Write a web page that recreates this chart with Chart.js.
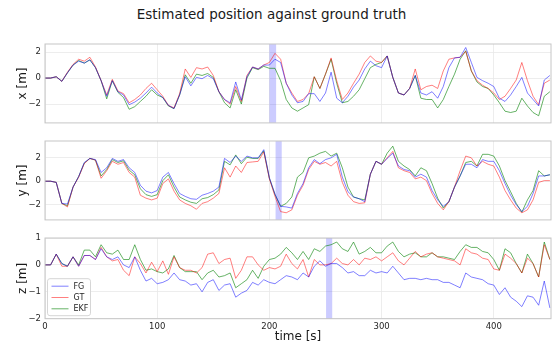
<!DOCTYPE html>
<html>
<head>
<meta charset="utf-8">
<script src="https://cdn.jsdelivr.net/npm/chart.js@4.4.0/dist/chart.umd.min.js"></script>
<style>
  body { margin: 0; background: #fff; }
  #wrap { position: relative; width: 557px; height: 347px; overflow: hidden; font-family: "DejaVu Sans", sans-serif; }
  #title { position: absolute; left: -7px; top: 6px; width: 557px; text-align: center; font-size: 13.5px; color: #1a1a1a; }
  canvas { position: absolute; left: 0; }
</style>
</head>
<body>
<div id="wrap">
  <div id="title">Estimated position against ground truth</div>
  <canvas id="cx" width="557" height="132" style="top:0px"></canvas>
  <canvas id="cy" width="557" height="101" style="top:128px"></canvas>
  <canvas id="cz" width="557" height="122" style="top:225px"></canvas>
</div>
<script>
// sample times [s]
const time = [
  0, 5, 10, 15, 20, 25, 30, 35, 40, 45,
  50, 55, 60, 65, 70, 75, 80, 85, 90, 95,
  100, 105, 110, 115, 120, 125, 130, 135, 140, 145,
  150, 155, 160, 165, 170, 175, 180, 185, 190, 195,
  200, 205, 210, 215, 220, 225, 230, 235, 240, 245,
  250, 255, 260, 265, 270, 275, 280, 285, 290, 295,
  300, 305, 310, 315, 320, 325, 330, 335, 340, 345,
  350, 355, 360, 365, 370, 375, 380, 385, 390, 395,
  400, 405, 410, 415, 420, 425, 430, 435, 440, 445,
  450
];
const timeTicks = [0, 100, 200, 300, 400];

// --- x [m] ---
const xFG = [
  0, 0, 0.1, -0.25, 0.4, 1.0, 1.3, 1.15, 1.4, 0.8,
  -0.2, -1.4, -0.2, -1.05, -1.3, -2.05, -1.85, -1.55, -1.15, -0.7,
  -1.15, -1.5, -2.1, -2.35, -1.3, 0.1, -0.6, 0.05, -0.05, 0.2,
  -0.05, -1.05, -1.65, -1.9, -0.3, -1.7, 0.1, 0.85, 0.7, 1.0,
  1.0, 1.45, 1.2, -0.4, -1.3, -1.9, -1.8, -1.2, -1.2, -1.8,
  -1.15, 0.45, -1.55, -1.9, -1.4, -0.7, -0.15, 0.7, 1.3, 0.95,
  0.8, 1.7, 0.05, -1.15, -1.3, -0.8, 0.2, -1.15, -1.3, -1.05,
  -1.55, -0.65, 0.8, 1.55, 1.6, 2.35, 1.2, 0.05, -0.2, -0.4,
  -0.65, -1.55, -1.8, -1.3, -0.65, 0.05, -1.15, -1.65, -2.15, -0.15,
  0.2
];
const xGT = [
  0, 0, 0.1, -0.25, 0.45, 1.05, 1.45, 1.3, 1.6, 0.85,
  -0.2, -1.3, -0.1, -1.0, -1.2, -1.9, -1.65, -1.3, -0.8, -0.4,
  -0.9, -1.4, -2.1, -2.3, -1.2, 0.7, 0.05, 0.8, 0.7, 0.85,
  0.2, -1.05, -1.65, -2.0, -0.65, -1.8, 0.2, 0.85, 0.7, 1.0,
  1.2, 1.9, 1.45, -0.4, -1.15, -1.8, -1.65, -1.2, 0.1, -0.8,
  0.3, 1.55, -0.2, -1.65, -1.15, -0.4, 0.3, 1.2, 1.7, 1.3,
  1.2, 1.7, 0.05, -1.15, -1.3, -0.8, 0.7, -0.9, -0.65, -0.55,
  -0.8, 0.55, 1.45, 1.55, 1.6, 2.05, 0.55, -0.2, -0.55, -0.8,
  -1.15, -1.65, -1.4, -0.8, -0.15, 1.2, -0.2, -1.4, -2.05, -0.4,
  -0.15
];
const xEKF = [
  0, 0, 0.1, -0.25, 0.4, 1.0, 1.35, 1.15, 1.4, 0.8,
  -0.2, -1.6, -0.2, -1.1, -1.5, -2.4, -2.2, -1.8, -1.4, -0.9,
  -1.3, -1.5, -2.15, -2.35, -1.3, 0.25, -0.4, 0.3, 0.2, 0.35,
  0.05, -1.05, -1.9, -2.3, -0.9, -2.0, 0.0, 0.8, 0.65, 0.9,
  0.75, 0.75, -0.2, -1.65, -2.3, -2.55, -2.3, -2.05, 0.1, -0.8,
  0.3, 1.45, -0.4, -1.9, -1.8, -1.4, -0.9, -0.05, 0.8, 1.05,
  1.2, 1.7, 0.05, -1.15, -1.3, -0.8, 0.2, -1.55, -1.65, -1.65,
  -2.3, -1.65, -0.65, 0.3, 1.45, 2.1, 0.55, -0.3, -0.65, -0.8,
  -1.3, -1.9, -2.55, -2.65, -2.55, -1.55, -2.15, -2.65, -2.9, -1.4,
  -1.05
];

// --- y [m] ---
const yFG = [
  0, 0, -0.1, -1.9, -1.95, -0.5, 0.4, 1.6, 1.95, 1.85,
  0.75, 1.15, 1.95, 1.7, 1.85, 1.15, 0.75, -0.35, -0.85, -1.0,
  -0.8, 0.35, 0.75, -0.2, -1.05, -1.3, -1.5, -1.55, -1.2, -1.05,
  -0.85, -0.5, 1.95, 1.6, 2.15, 1.7, 2.15, 2.0, 2.0, 2.7,
  0.3, -1.1, -2.15, -2.2, -2.3, -1.05, -0.2, 1.15, 1.85, 1.5,
  1.85, 2.0, 2.3, 0.35, -0.9, -1.35, -1.5, -1.75, 0.6, 1.7,
  1.45, 1.95, 2.4, 1.3, 1.0, 0.9, 0.35, 0.6, 0.35, -0.8,
  -1.6, -2.15, -1.75, -0.5, 0.45, 1.45, 1.45, 1.15, 1.85, 1.7,
  1.7, 0.9, -0.2, -1.2, -2.0, -2.6, -2.15, -1.05, 0.45, 0.45,
  0.55
];
const yGT = [
  0, 0, -0.1, -1.9, -2.2, -0.5, 0.35, 1.5, 1.95, 1.8,
  0.25, 0.9, 1.7, 1.45, 1.6, 0.75, 0.35, -1.2, -1.45, -1.6,
  -1.45, -0.2, 0.2, -0.85, -1.6, -1.9, -2.1, -2.4, -1.9, -1.75,
  -1.45, -1.05, 1.15, 0.35, 1.3, 0.75, 1.6, 1.65, 1.7, 2.5,
  0.2, -1.3, -2.6, -2.7, -2.45, -1.2, -0.35, 1.0, 1.7, 1.45,
  1.6, 1.3, 1.7, -0.1, -1.2, -1.75, -1.9, -1.85, 0.6, 1.7,
  1.45, 2.0, 2.55, 1.15, 0.9, 0.75, 0.2, 0.35, 0.05, -1.05,
  -1.9, -2.45, -1.75, -0.5, 0.9, 2.15, 2.0, 1.3, 1.7, 1.45,
  1.3, 0.35, -0.8, -1.6, -2.3, -2.7, -2.45, -1.6, -0.1, 0.05,
  0.05
];
const yEKF = [
  0, 0, -0.1, -1.9, -2.1, -0.5, 0.4, 1.55, 1.95, 1.8,
  0.45, 1.0, 1.85, 1.6, 1.75, 0.95, 0.55, -0.65, -1.15, -1.3,
  -1.15, 0.05, 0.55, -0.5, -1.35, -1.6, -1.8, -1.9, -1.5, -1.4,
  -1.15, -0.75, 1.7, 1.4, 2.25, 1.5, 2.05, 1.95, 1.95, 2.6,
  0.25, -1.15, -2.15, -1.9, -1.35, 0.35, 0.75, 2.0, 2.15, 2.4,
  2.55, 2.15, 2.4, 1.15, -0.5, -1.35, -1.5, -1.6, 0.6, 1.7,
  1.45, 2.4, 3.0, 1.7, 1.3, 1.0, 0.45, 1.15, 0.9, -0.2,
  -1.45, -2.3, -1.75, -0.5, 0.45, 1.6, 1.7, 1.3, 2.3, 2.3,
  2.15, 1.3, 0.05, -0.9, -1.9, -2.65, -1.6, -0.8, 0.9, 0.45,
  0.55
];

// --- z [m] ---
const zFG = [
  0, 0, 0.4, 0.05, -0.05, 0.3, -0.05, 0.35, 0.35, 0.2,
  0.6, 0.3, 0.2, 0.3, 0.0, -0.1, 0.3, -0.2, -0.6, -0.5,
  -0.7, -0.65, -0.55, -0.3, -0.55, -0.6, -0.75, -0.7, -1.0, -0.65,
  -0.55, -0.95, -0.75, -0.7, -1.2, -1.05, -0.95, -0.65, -0.75, -0.55,
  -0.65, -0.7, -0.55, -0.4, -0.45, -0.55, -0.3, -0.45, -0.05, 0.15,
  -0.05, 0.05, 0.05, -0.1, -0.3, -0.25, -0.4, -0.4, -0.2, -0.3,
  -0.25, -0.3, -0.05, -0.3, -0.55, -0.5, -0.5, -0.55, -0.5, -0.55,
  -0.55, -0.65, -0.65, -0.75, -0.85, -0.3, -0.45, -0.5, -0.55, -0.7,
  -0.75, -1.1, -0.85, -1.2, -1.35, -1.55, -1.15, -1.2, -1.5, -0.6,
  -1.6
];
const zGT = [
  0, 0, 0.4, -0.05, -0.05, 0.3, -0.05, 0.35, 0.35, 0.2,
  0.65, 0.3, 0.15, 0.2, -0.2, -0.4, 0.3, 0.05, -0.3, 0.1,
  -0.25, 0.15, -0.35, 0.3, -0.1, -0.2, -0.2, -0.3, -0.1, 0.4,
  0.45, 0.05, 0.2, 0.25, -0.5, -0.2, 0.3, 0.3, 0.0, -0.2,
  -0.1, -0.15, -0.05, 0.4, 0.05, -0.15, 0.2, -0.45, 0.2, 0.0,
  0.0, 0.05, 0.25, 0.05, 0.0, 0.2, 0.0, 0.25, 0.2, 0.3,
  0.15, 0.3, 0.45, 0.15, 0.0, 0.25, 0.5, 0.3, 0.4, 0.45,
  0.3, 0.25, 0.2, 0.15, 0.0, 0.6, 0.45, 0.4, 0.25, 0.2,
  -0.15, -0.2, 0.4, 0.25, 0.05, -0.3, 0.25, 0.05, -0.45, 0.75,
  0.2
];
const zEKF = [
  0, 0, 0.4, 0.05, -0.05, 0.3, 0.0, 0.55, 0.55, 0.3,
  0.75, 0.45, 0.4, 0.55, 0.2, 0.2, 0.75, 0.2, -0.2, -0.15,
  -0.25, -0.3, -0.15, 0.35, -0.1, -0.25, -0.25, -0.25, -0.55, -0.3,
  -0.2, -0.45, -0.4, -0.3, -0.85, -0.7, -0.55, -0.2, -0.5, -0.05,
  0.2, 0.25, 0.4, 0.65, 0.45, 0.2, 0.5, 0.2, 0.6, 0.5,
  0.7, 0.75, 0.85, 0.6, 0.5, 0.85, 0.4, 0.5, 0.65, 0.45,
  0.45, 0.7, 0.85, 0.5, 0.3, 0.4, 0.45, 0.3, 0.3, 0.45,
  0.3, 0.3, 0.25, 0.2, 0.5, 0.75, 0.65, 0.65, 0.5, 0.45,
  0.2, -0.2, 0.6, 0.45, 0.05, -0.3, 0.4, 0.05, -0.45, 0.85,
  0.2
];

const xAxisTicks = [-2, 0, 2];
const yAxisTicks = [-2, 0, 2];
const zAxisTicks = [-2, -1, 0, 1];
// highlighted time windows [s]
const xBand = [200, 206];
const yBand = [205.5, 211];
const zBand = [250.5, 256];

const seriesNames = ['FG', 'GT', 'EKF'];
const seriesColors = ['rgba(0,0,255,0.5)', 'rgba(255,0,0,0.5)', 'rgba(0,128,0,0.6)'];

Chart.defaults.font.family = '"DejaVu Sans", sans-serif';
Chart.defaults.animation = false;

// minus sign like matplotlib
const fmt = v => (v < 0 ? '\u2212' + Math.abs(v) : String(v));

// --- shaded span behind the lines ---
const bandPlugin = {
  id: 'band',
  beforeDatasetsDraw(chart, args, opts) {
    const a = chart.chartArea, xs = chart.scales.x, ctx = chart.ctx;
    const x0 = xs.getPixelForValue(opts.from), x1 = xs.getPixelForValue(opts.to);
    ctx.save();
    ctx.fillStyle = 'rgba(0,0,255,0.2)';
    ctx.fillRect(x0, a.top, x1 - x0, a.height);
    ctx.restore();
  }
};

// --- box round the plot area ---
const framePlugin = {
  id: 'frame',
  afterDraw(chart) {
    const a = chart.chartArea, ctx = chart.ctx;
    ctx.save();
    ctx.strokeStyle = '#c6c6c6';
    ctx.lineWidth = 1;
    ctx.strokeRect(a.left, a.top, a.width, a.height);
    ctx.restore();
  }
};

// --- legend drawn inside the z plot, lower left ---
const boxLegend = {
  id: 'boxLegend',
  afterDraw(chart, args, opts) {
    if (!opts.show) return;
    const a = chart.chartArea, ctx = chart.ctx;
    const x = a.left + 2.5, y = a.bottom - 40, w = 43, h = 37;
    ctx.save();
    ctx.fillStyle = 'rgba(255,255,255,0.85)';
    ctx.strokeStyle = '#d6d6d6';
    ctx.lineWidth = 1;
    ctx.beginPath();
    ctx.roundRect(x, y, w, h, 2.5);
    ctx.fill();
    ctx.stroke();
    ctx.font = '8px "DejaVu Sans", sans-serif';
    ctx.textBaseline = 'middle';
    chart.data.datasets.forEach((ds, i) => {
      const ry = y + 7.5 + i * 11.3;
      ctx.strokeStyle = ds.borderColor;
      ctx.lineWidth = 1;
      ctx.beginPath();
      ctx.moveTo(x + 4, ry);
      ctx.lineTo(x + 21, ry);
      ctx.stroke();
      ctx.fillStyle = '#262626';
      ctx.fillText(ds.label, x + 26, ry + 0.5);
    });
    ctx.restore();
  }
};

function makeChart(id, fg, gt, ekf, cfg) {
  const series = [fg, gt, ekf];
  const datasets = series.map((arr, i) => ({
    label: seriesNames[i],
    data: time.map((t, k) => ({ x: t, y: arr[k] })),
    borderColor: seriesColors[i],
    borderWidth: 1,
    pointRadius: 0,
    tension: 0
  }));
  return new Chart(document.getElementById(id), {
    type: 'line',
    data: { datasets },
    plugins: [bandPlugin, framePlugin, boxLegend],
    options: {
      responsive: false,
      layout: { padding: { top: cfg.padTop, right: 6, left: 0, bottom: 0 } },
      plugins: {
        legend: { display: false },
        tooltip: { enabled: false },
        band: { from: cfg.band[0], to: cfg.band[1] },
        boxLegend: { show: !!cfg.legend }
      },
      scales: {
        x: {
          type: 'linear',
          min: 0,
          max: 451,
          afterBuildTicks: s => { s.ticks = timeTicks.map(v => ({ value: v })); },
          afterFit: s => { s.height = cfg.xHeight; },
          grid: { color: '#e8e8e8', lineWidth: 0.8, drawTicks: false },
          border: { display: false },
          ticks: { display: !!cfg.showX, padding: 3, maxRotation: 0, color: '#262626', font: { size: 8.5 } },
          title: { display: !!cfg.showX, text: 'time [s]', color: '#1a1a1a', font: { size: 12 }, padding: { top: 0, bottom: 3 } }
        },
        y: {
          min: cfg.min,
          max: cfg.max,
          afterBuildTicks: s => { s.ticks = cfg.ticks.map(v => ({ value: v })); },
          afterFit: s => { s.width = 45; },
          grid: { color: '#e8e8e8', lineWidth: 0.8, drawTicks: false },
          border: { display: false },
          ticks: { padding: 4, color: '#262626', font: { size: 8.5 }, callback: fmt },
          title: { display: true, text: cfg.label, color: '#1a1a1a', font: { size: 12 }, padding: { top: 16, bottom: 0 } }
        }
      }
    }
  });
}

makeChart('cx', xFG, xGT, xEKF, { label: 'x [m]', min: -3.45, max: 2.62, ticks: xAxisTicks, band: xBand, padTop: 44, xHeight: 7 });
makeChart('cy', yFG, yGT, yEKF, { label: 'y [m]', min: -3.31, max: 3.44, ticks: yAxisTicks, band: yBand, padTop: 13, xHeight: 7 });
makeChart('cz', zFG, zGT, zEKF, { label: 'z [m]', min: -2, max: 1, ticks: zAxisTicks, band: zBand, padTop: 13, xHeight: 28.3, showX: true, legend: true });
</script>
</body>
</html>
